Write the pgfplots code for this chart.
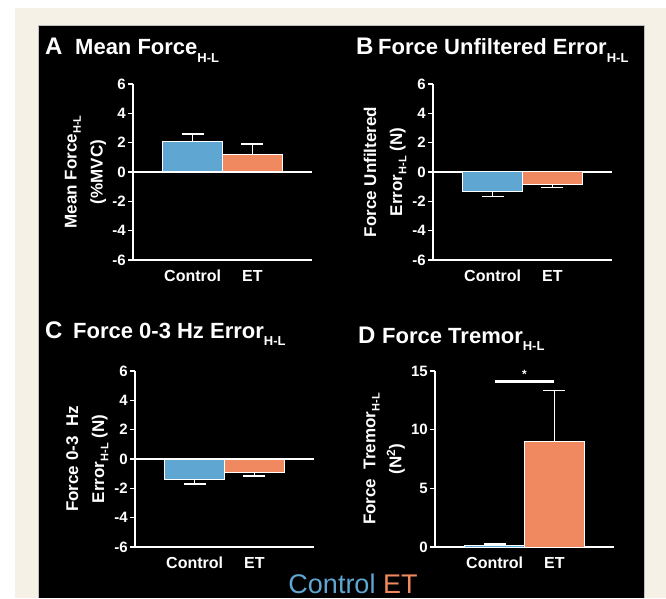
\documentclass[border=0pt]{standalone}
\usepackage{fontspec}
\setmainfont{Liberation Sans}
\usepackage{pgfplots}
\pgfplotsset{compat=1.18}
\definecolor{cblue}{RGB}{96,166,210}
\definecolor{corange}{RGB}{240,136,96}
\definecolor{cream}{RGB}{245,241,230}
\newcommand\tsub[1]{\raisebox{-0.32em}{\fontsize{13}{13}\selectfont #1}}
\newcommand\lsub[1]{\raisebox{-0.25em}{\fontsize{11}{11}\selectfont #1}}
\pgfplotsset{
 panel/.style={
  scale only axis, width=179pt, height=176pt,
  axis x line=bottom, axis y line=left,
  axis line style={white, line width=1.2pt, -},
  xmin=0, xmax=3,
  xtick={1,2}, xticklabels={Control,ET},
  x tick style={draw=none},
  y tick style={white, line width=1.2pt},
  tick align=outside, major tick length=5pt,
  yticklabel style={white, font=\fontsize{15}{15}\selectfont\bfseries, inner sep=2pt},
  xticklabel style={white, font=\fontsize{16}{16}\selectfont\bfseries, inner sep=5pt},
  /pgf/number format/assume math mode=true,
  ylabel style={white, font=\fontsize{17}{26}\selectfont\bfseries, align=center, inner sep=4pt},
  clip=false,
 },
 sym/.style={panel, ymin=-6, ymax=6, ytick={-6,-4,-2,0,2,4,6}},
 cbar/.style={ybar, bar width=1, fill=cblue, draw=white, line width=1pt},
 obar/.style={ybar, bar width=1, fill=corange, draw=white, line width=1pt},
 eb/.style={error bars/.cd, y dir=#1, y explicit, error mark=|,
   error bar style={white, line width=1.3pt},
   error mark options={white, line width=1.3pt, mark size=11pt}},
}
\begin{document}
\begin{tikzpicture}
\useasboundingbox (0,0) rectangle (666pt,598pt);
\fill[white] (0,0) rectangle (666pt,598pt);
\fill[cream] (15pt,0) rectangle (666pt,590pt);
\fill[black] (38pt,0) rectangle (644pt,573pt);
\draw[gray!50, line width=0.8pt] (38pt,0) -- (38pt,573pt) -- (644pt,573pt) -- (644pt,0);

% Titles
\node[anchor=base west, white, inner sep=0pt, font=\fontsize{24}{24}\selectfont\bfseries] at (45pt,543pt) {A};
\node[anchor=base west, white, inner sep=0pt, font=\fontsize{22}{22}\selectfont\bfseries] at (75pt,543pt) {Mean Force\tsub{H-L}};
\node[anchor=base west, white, inner sep=0pt, font=\fontsize{24}{24}\selectfont\bfseries] at (356pt,543pt) {B};
\node[anchor=base west, white, inner sep=0pt, font=\fontsize{22}{22}\selectfont\bfseries] at (378pt,543pt) {Force Unfiltered Error\tsub{H-L}};
\node[anchor=base west, white, inner sep=0pt, font=\fontsize{24}{24}\selectfont\bfseries] at (45pt,260pt) {C};
\node[anchor=base west, white, inner sep=0pt, font=\fontsize{22}{22}\selectfont\bfseries] at (73pt,260pt) {Force 0-3 Hz Error\tsub{H-L}};
\node[anchor=base west, white, inner sep=0pt, font=\fontsize{24}{24}\selectfont\bfseries] at (358pt,255pt) {D};
\node[anchor=base west, white, inner sep=0pt, font=\fontsize{22}{22}\selectfont\bfseries] at (382pt,255pt) {Force Tremor\tsub{H-L}};

% Legend text
\node[anchor=base, inner sep=0pt, font=\fontsize{27}{27}\selectfont] at (353pt,5pt) {\textcolor{cblue}{Control} \textcolor{corange}{ET}};

% Panel A
\begin{axis}[sym, at={(133pt,338pt)}, anchor=south west,
  ylabel={Mean Force\lsub{H-L}\\(\%MVC)}]
\draw[white, line width=1.2pt] (axis cs:0,0) -- (axis cs:3,0);
\addplot[cbar, eb=plus] coordinates {(1,2.1) +- (0,0.5)};
\addplot[obar, eb=plus] coordinates {(2,1.2) +- (0,0.7)};
\end{axis}

% Panel B
\begin{axis}[sym, at={(433pt,338pt)}, anchor=south west,
  ylabel={Force Unfiltered\\Error\lsub{H-L} (N)}]
\draw[white, line width=1.2pt] (axis cs:0,0) -- (axis cs:3,0);
\addplot[cbar, eb=minus] coordinates {(1,-1.35) +- (0,0.3)};
\addplot[obar, eb=minus] coordinates {(2,-0.85) +- (0,0.22)};
\end{axis}

% Panel C
\begin{axis}[sym, at={(135pt,51pt)}, anchor=south west,
  ylabel={Force 0-3\ \ Hz\\Error\lsub{H-L} (N)}]
\draw[white, line width=1.2pt] (axis cs:0,0) -- (axis cs:3,0);
\addplot[cbar, eb=minus] coordinates {(1,-1.4) +- (0,0.3)};
\addplot[obar, eb=minus] coordinates {(2,-0.95) +- (0,0.2)};
\end{axis}

% Panel D
\begin{axis}[panel, at={(435pt,51pt)}, anchor=south west,
  ymin=0, ymax=15, ytick={0,5,10,15},
  ylabel={Force\ \ Tremor\lsub{H-L}\\(N\textsuperscript{2})}]
\addplot[cbar, eb=plus] coordinates {(1,0.15) +- (0,0.1)};
\addplot[obar, eb=plus] coordinates {(2,9.0) +- (0,4.35)};
\addplot[white, line width=2.5pt] coordinates {(1,14.1) (2,14.1)};
\node[white, font=\fontsize{12}{12}\selectfont\bfseries, anchor=south, inner sep=1pt] at (axis cs:1.5,14.3) {*};
\end{axis}
\end{tikzpicture}
\end{document}
